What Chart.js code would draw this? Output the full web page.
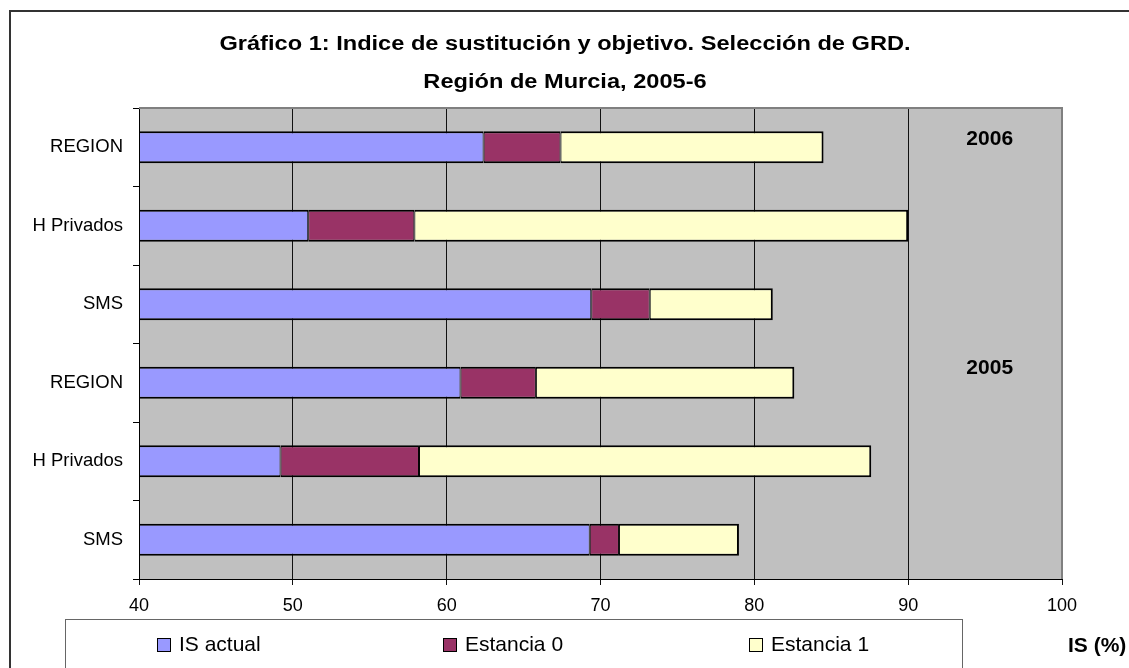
<!DOCTYPE html>
<html>
<head>
<meta charset="utf-8">
<script src="https://cdn.jsdelivr.net/npm/chart.js@4"></script>
<style>
  html, body { margin: 0; padding: 0; background: #fff; }
  #wrap { width: 1129px; height: 668px; }
</style>
</head>
<body>
<div id="wrap"><canvas id="chart" width="1129" height="668"></canvas></div>
<script>
// categories top to bottom (2006 block, then 2005 block)
const categories = ['REGION', 'H Privados', 'SMS', 'REGION', 'H Privados', 'SMS'];
const isActual = [62.4, 51.0, 69.4, 60.9, 49.2, 69.3];
const estancia0 = [5.0, 6.9, 3.8, 4.9, 9.0, 1.9];
const estancia1 = [17.1, 32.1, 8.0, 16.8, 29.4, 7.8];
const seriesNames = ['IS actual', 'Estancia 0', 'Estancia 1'];
const xTicks = [40, 50, 60, 70, 80, 90, 100];
const yearLabels = ['2006', '2005'];
const titleLines = ['Gráfico 1: Indice de sustitución y objetivo. Selección de GRD.', 'Región de Murcia, 2005-6'];
const axisUnit = 'IS (%)';

const FONT = "'Liberation Sans', Arial, sans-serif";
Chart.defaults.font.family = FONT;
Chart.defaults.color = '#000';

const frame = {
    id: 'frame',
    beforeDraw(chart) {
        const {ctx, chartArea: a} = chart;
        ctx.save();
        ctx.fillStyle = '#c0c0c0';
        ctx.fillRect(a.left, a.top, a.right - a.left, a.bottom - a.top);
        // outer border of the chart object
        ctx.strokeStyle = '#333';
        ctx.lineWidth = 2;
        ctx.beginPath();
        ctx.moveTo(10, 680);
        ctx.lineTo(10, 11);
        ctx.lineTo(1140, 11);
        ctx.stroke();

        // title, the original font is a bit wider than it is tall
        ctx.fillStyle = '#000';
        ctx.font = 'bold 20px ' + FONT;
        ctx.textAlign = 'center';
        ctx.textBaseline = 'alphabetic';
        [49.5, 88].forEach((y, i) => {
            ctx.save();
            ctx.translate(565, y);
            ctx.scale(1.18, 1);
            ctx.fillText(titleLines[i], 0, 0);
            ctx.restore();
        });
        ctx.restore();
    },
    afterDraw(chart) {
        const {ctx, chartArea: a, scales} = chart;
        ctx.save();
        // gray top and right plot border
        ctx.strokeStyle = '#808080';
        ctx.lineWidth = 2;
        ctx.beginPath();
        ctx.moveTo(a.left, a.top);
        ctx.lineTo(a.right, a.top);
        ctx.lineTo(a.right, a.bottom);
        ctx.stroke();

        // year labels inside the plot
        ctx.fillStyle = '#000';
        ctx.font = 'bold 21px ' + FONT;
        ctx.textAlign = 'center';
        ctx.textBaseline = 'middle';
        const yx = scales.x.getPixelForValue(95.3);
        ctx.fillText(yearLabels[0], yx, scales.y.getPixelForValue(-0.105));
        ctx.fillText(yearLabels[1], yx, scales.y.getPixelForValue(2.81));

        // legend box
        ctx.strokeStyle = '#666';
        ctx.lineWidth = 1;
        ctx.strokeRect(65.5, 619.5, 897, 80);
        const lx = [157, 443, 749];
        ctx.font = '21px ' + FONT;
        ctx.textAlign = 'left';
        chart.data.datasets.forEach((ds, i) => {
            ctx.fillStyle = ds.backgroundColor;
            ctx.fillRect(lx[i], 638, 13, 13);
            ctx.strokeStyle = '#000';
            ctx.strokeRect(lx[i] + 0.5, 638.5, 13, 13);
            ctx.fillStyle = '#000';
            ctx.fillText(ds.label, lx[i] + 22, 645);
        });

        // axis unit
        ctx.font = 'bold 21px ' + FONT;
        ctx.fillText(axisUnit, 1068, 646);
        ctx.restore();
    }
};

const border = {top: 2, bottom: 2, left: 1, right: 1};

new Chart(document.getElementById('chart'), {
    type: 'bar',
    data: {
        labels: categories,
        datasets: [
            {label: seriesNames[0], data: isActual, backgroundColor: '#9999ff'},
            {label: seriesNames[1], data: estancia0, backgroundColor: '#993366'},
            {label: seriesNames[2], data: estancia1, backgroundColor: '#ffffcc', borderWidth: {top: 2, bottom: 2, left: 1, right: 2}}
        ]
    },
    options: {
        indexAxis: 'y',
        responsive: false,
        animation: false,
        layout: {padding: {left: 0, right: 67, top: 108, bottom: 0}},
        datasets: {
            bar: {
                borderColor: '#000',
                borderWidth: border,
                borderSkipped: false,
                barPercentage: 0.41,
                categoryPercentage: 1,
                clip: 0
            }
        },
        plugins: {
            legend: {display: false},
            tooltip: {enabled: false},
            title: {display: false}
        },
        scales: {
            x: {
                type: 'linear',
                stacked: true,
                min: 40,
                max: 100,
                afterBuildTicks: (s) => { s.ticks = xTicks.map(v => ({value: v})); },
                afterFit: (s) => { s.height = 89; },
                ticks: {font: {size: 18}, padding: 10, color: '#000'},
                grid: {color: '#111', lineWidth: 1, tickLength: 6},
                border: {color: '#000', width: 1, z: 1}
            },
            y: {
                stacked: true,
                afterFit: (s) => { s.width = 139; },
                ticks: {font: {size: 18.5}, padding: 10, color: '#000'},
                grid: {drawOnChartArea: false, color: '#000', tickLength: 6, offset: true},
                border: {color: '#000', width: 1, z: 1}
            }
        }
    },
    plugins: [frame]
});
</script>
</body>
</html>
